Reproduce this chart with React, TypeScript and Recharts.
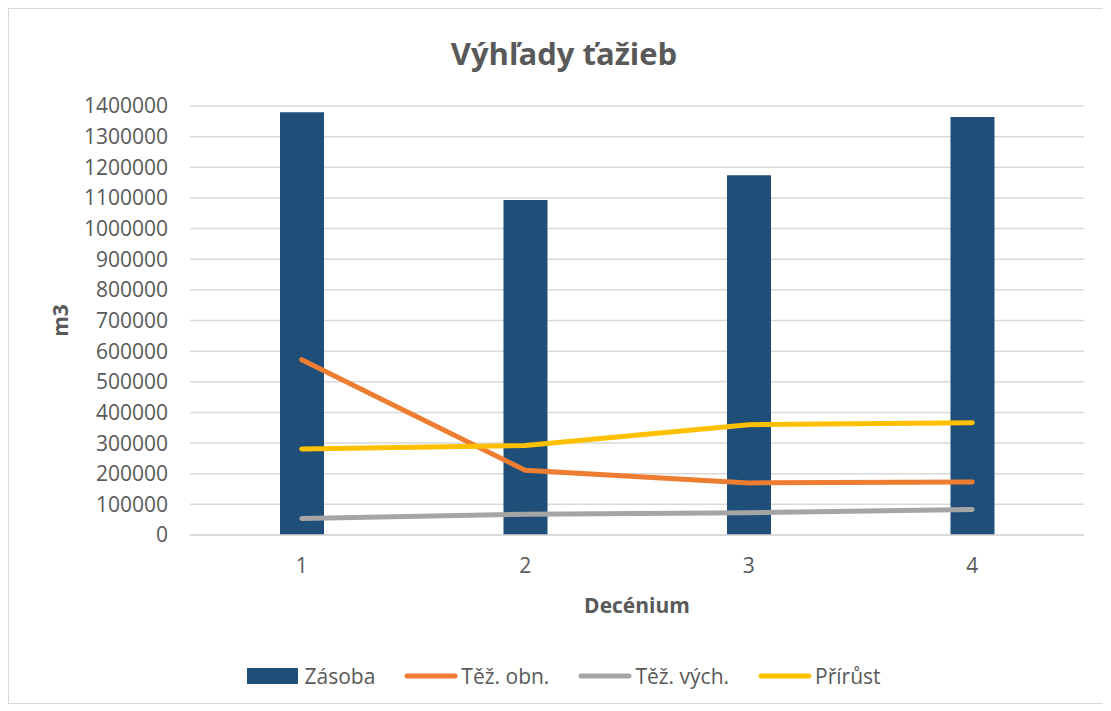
import React from "react";
import {
  ComposedChart,
  Bar,
  Line,
  XAxis,
  YAxis,
  CartesianGrid,
  Legend,
} from "recharts";

const DECENIA = ["1", "2", "3", "4"];
const ZASOBA = [1380000, 1093000, 1174000, 1364000];
const TEZ_OBN = [572000, 211000, 170000, 173000];
const TEZ_VYCH = [54000, 68000, 73000, 83000];
const PRIRUST = [281000, 292000, 360000, 366000];
const Y_TICKS = [
  0, 100000, 200000, 300000, 400000, 500000, 600000, 700000, 800000, 900000,
  1000000, 1100000, 1200000, 1300000, 1400000,
];
const LEGEND_ORDER = ["Zásoba", "Těž. obn.", "Těž. vých.", "Přírůst"];

const FONT = "'Open Sans', sans-serif";
const TEXT = "#595959";

const data = DECENIA.map((d, i) => ({
  decenium: d,
  zasoba: ZASOBA[i],
  obn: TEZ_OBN[i],
  vych: TEZ_VYCH[i],
  prirust: PRIRUST[i],
}));

// legenda ako v Exceli: obdĺžnik pre stĺpce, čiara pre série
function ChartLegend({ payload }: any) {
  const items = [...(payload || [])].sort(
    (a: any, b: any) => LEGEND_ORDER.indexOf(a.value) - LEGEND_ORDER.indexOf(b.value)
  );
  return (
    <div
      style={{
        height: 30,
        display: "flex",
        justifyContent: "center",
        alignItems: "center",
        gap: 29,
        fontFamily: FONT,
        fontSize: 21,
        color: TEXT,
      }}
    >
      {items.map((p: any) => (
        <div key={p.value} style={{ display: "flex", alignItems: "center" }}>
          <svg width={54} height={20} style={{ marginRight: 3 }}>
            {p.type === "rect" ? (
              <rect x={0} y={2} width={51} height={16} fill={p.color} />
            ) : (
              <line
                x1={3}
                y1={10}
                x2={51}
                y2={10}
                stroke={p.color}
                strokeWidth={5}
                strokeLinecap="round"
              />
            )}
          </svg>
          <span>{p.value}</span>
        </div>
      ))}
    </div>
  );
}

export default function App() {
  return (
    <div
      style={{
        position: "relative",
        width: 1096,
        height: 696,
        boxSizing: "border-box",
        border: "1px solid #D9D9D9",
        background: "#fff",
      }}
    >
      <div
        style={{
          position: "absolute",
          top: 23,
          left: 0,
          width: 1110,
          textAlign: "center",
          fontFamily: FONT,
          fontWeight: "bold",
          fontSize: 31,
          color: TEXT,
        }}
      >
        Výhľady ťažieb
      </div>
      <ComposedChart
        width={1094}
        height={694}
        data={data}
        margin={{ top: 97, right: 19, bottom: 12, left: 20 }}
      >
        <CartesianGrid vertical={false} stroke="#D9D9D9" strokeWidth={1.5} />
        <XAxis
          dataKey="decenium"
          height={126}
          axisLine={{ stroke: "#D9D9D9", strokeWidth: 1.5 }}
          tickLine={false}
          tickSize={0}
          tickMargin={23}
          tick={{ fill: TEXT, fontSize: 21, fontFamily: FONT }}
          label={{
            value: "Decénium",
            position: "insideTop",
            offset: 63,
            fill: TEXT,
            fontSize: 21,
            fontWeight: "bold",
            fontFamily: FONT,
          }}
        />
        <YAxis
          width={161}
          domain={[0, 1400000]}
          ticks={Y_TICKS}
          interval={0}
          axisLine={false}
          tickLine={false}
          tickSize={0}
          tickMargin={22}
          tick={{ fill: TEXT, fontSize: 21, fontFamily: FONT }}
          label={({ viewBox }: any) => {
            const x = viewBox.x + 31;
            const y = viewBox.y + viewBox.height / 2;
            return (
              <text
                x={x}
                y={y}
                transform={`rotate(-90 ${x} ${y})`}
                textAnchor="middle"
                dominantBaseline="central"
                fill={TEXT}
                fontSize={21}
                fontWeight="bold"
                fontFamily={FONT}
              >
                m3
              </text>
            );
          }}
        />
        <Legend
          verticalAlign="bottom"
          content={<ChartLegend />}
          wrapperStyle={{ left: 0, width: 1110 }}
        />
        <Bar
          dataKey="zasoba"
          name="Zásoba"
          fill="#1F4E79"
          barSize={44}
          legendType="rect"
          isAnimationActive={false}
        />
        <Line
          dataKey="obn"
          name="Těž. obn."
          stroke="#ED7D31"
          strokeWidth={5}
          strokeLinecap="round"
          dot={false}
          activeDot={false}
          legendType="line"
          isAnimationActive={false}
        />
        <Line
          dataKey="vych"
          name="Těž. vých."
          stroke="#A5A5A5"
          strokeWidth={5}
          strokeLinecap="round"
          dot={false}
          activeDot={false}
          legendType="line"
          isAnimationActive={false}
        />
        <Line
          dataKey="prirust"
          name="Přírůst"
          stroke="#FFC000"
          strokeWidth={5}
          strokeLinecap="round"
          dot={false}
          activeDot={false}
          legendType="line"
          isAnimationActive={false}
        />
      </ComposedChart>
    </div>
  );
}
